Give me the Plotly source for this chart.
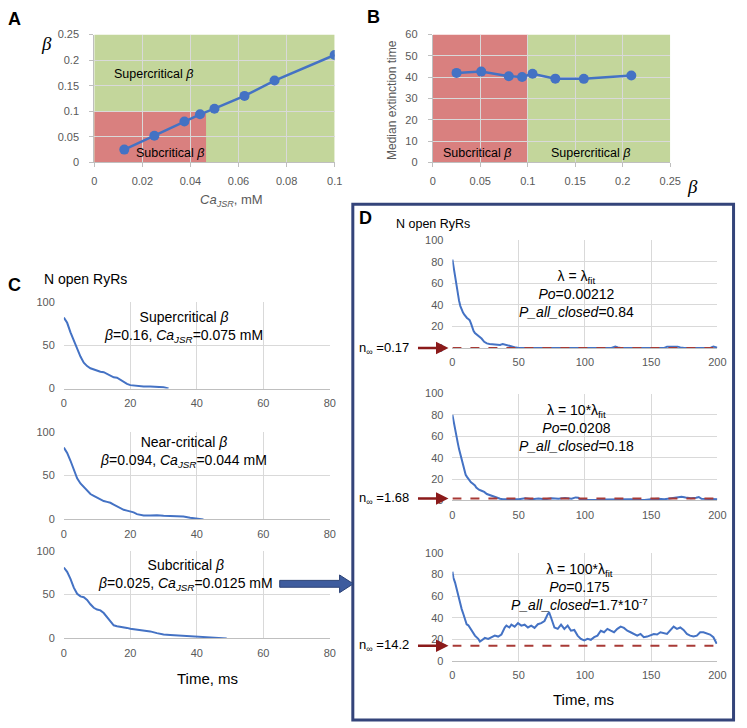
import plotly.graph_objects as go

W, H = 747, 728
def PX(x): return x / W
def PY(y): return 1 - y / H

FONT = "Liberation Sans, Arial, sans-serif"
SERIF = "Liberation Serif, Times New Roman, serif"
TICK_GRAY = "#595959"
GRID = "#D9D9D9"
AXLINE = "#BFBFBF"
BLUE = "#4472C4"
GREEN = "#C3D69B"
RED = "#D9807F"
DASH_RED = "#A83A36"
ARROW_RED = "#8B1A1A"

# ---------------- data ----------------
ca_jsr = [0.0125, 0.025, 0.0375, 0.044, 0.05, 0.0625, 0.075, 0.1]
beta_a = [0.025, 0.052, 0.08, 0.094, 0.105, 0.13, 0.16, 0.21]
ca_sub_limit = 0.0465
beta_crit = 0.1

beta_b = [0.025, 0.051, 0.08, 0.094, 0.105, 0.129, 0.159, 0.209]
ext_time = [42.0, 42.6, 40.4, 40.1, 41.6, 39.3, 39.2, 40.8]

c1_t = [0, 1, 2, 3, 4, 5, 6, 7, 8, 9, 10, 11, 12, 13, 14, 15, 16, 17, 18, 19, 20,
        22, 24, 26, 28, 30, 31.5]
c1_n = [82, 76, 65, 55, 45, 37, 30, 26, 23.5, 22, 21, 19.5, 19, 17, 14.5, 13, 12.5, 10, 7.5, 5.5, 4,
        3, 2.5, 2.3, 2.2, 1.5, 0]

c2_t = [0, 1, 2, 3, 4, 5, 6, 7, 8, 9, 10, 11, 12, 13, 14, 15, 16, 17, 18, 19, 20, 21, 22, 23, 24,
        26, 28, 30, 32, 34, 36, 38, 40, 41, 42]
c2_n = [82, 76, 67, 56, 47, 41, 37, 33, 29, 27, 25, 23, 21, 20, 19, 17, 15, 13, 11, 10, 9, 8, 6, 5, 4.5,
        4.5, 4.8, 4.2, 4, 3.5, 3.3, 2, 1, 0.5, 0]

c3_t = [0, 1, 2, 3, 4, 5, 6, 7, 8, 9, 10, 11, 12, 13, 14, 15, 16, 17, 18, 19, 20,
        22, 24, 26, 28, 30, 32, 34, 36, 38, 40, 42, 44, 46, 48, 49]
c3_n = [81, 76, 68, 58, 51, 48, 47, 44, 39, 35, 33, 32, 29, 24, 19, 15, 14, 13.5, 13, 12, 11,
        10, 9, 8, 6, 4.5, 4, 3.5, 3, 2.6, 2.3, 2, 1.8, 1, 0.5, 0]

d1_t = [0, 1, 2, 3, 4, 5, 6, 7, 8, 9, 10, 11, 12, 13, 14, 15, 16, 17, 18, 19, 20,
        22, 24, 26, 28, 30, 32, 34, 36, 38, 40, 42, 44, 46, 48, 50,
        60, 80, 100, 120, 123, 125, 127, 140, 160, 162, 166, 170, 172, 175, 190, 195, 197, 199, 200]
d1_n = [82, 74, 67, 59, 50, 44, 39, 35, 33, 31, 29, 28, 27, 26, 23, 19, 16, 14, 13, 12, 11,
        9, 6, 4.5, 4, 3.6, 3.6, 3.3, 3, 4, 3.2, 2.5, 1.5, 1, 0.6, 0.3,
        0.2, 0.2, 0.2, 0.3, 1.5, 0.8, 0.2, 0.2, 0.3, 1.5, 1.5, 1.5, 0.8, 0.2, 0.2, 0.5, 1.5, 0.8, 0.5]

d2_t = [0, 1, 2, 3, 4, 5, 6, 7, 8, 9, 10, 11, 12, 13, 14, 15, 16, 17, 18, 19, 20,
        22, 24, 26, 28, 30, 32, 34, 36, 38, 40,
        45, 50, 55, 60, 65, 70, 75, 80, 85, 90, 93, 95, 97,
        100, 105, 110, 115, 120, 125, 130, 135, 140, 145, 150, 155, 160, 165, 170,
        173, 176, 180, 184, 186, 188, 192, 196, 200]
d2_n = [80, 73, 65, 59, 54, 48, 43, 38, 33, 28, 24, 22, 20, 19, 17, 16, 15, 14, 12, 11, 10,
        9, 8, 6, 5, 4, 3, 2, 1.5, 1, 1,
        1.5, 1, 2, 1, 1.8, 1.2, 2, 1.5, 2.2, 1.5, 2.8, 2.5, 0.5,
        0.3, 0.5, 0.3, 0.8, 1, 0.6, 0.8, 1.2, 0.5, 0.3, 1, 1.5, 1.2, 2, 2.5,
        3.5, 2.8, 2, 2.5, 3.2, 1.5, 1.2, 1, 1]

d3_t = [0, 0.75, 2, 3.25, 4.5, 5.75, 7, 8.25, 9.5, 10.75, 12, 14.5, 17, 19.5, 20.75, 22, 24.5, 27,
        29.5, 32, 34.5, 37, 39.5, 40.75, 43, 44.5, 47, 49.5, 52, 54.5, 57, 59.5, 62, 64.5, 67,
        69.5, 72, 73, 74.5, 77, 79.5, 82, 84.5, 87, 89.5, 92, 94.5, 97, 99.5, 102, 104.5, 107,
        109.5, 112, 114.5, 117, 119.5, 122, 124.5, 127, 129.5, 132, 134.5, 137, 139.5, 142,
        144.5, 147, 149.5, 152, 154.5, 157, 162, 164.5, 167, 169.5, 172, 174.5, 177, 179.5,
        182, 184.5, 187, 189.5, 192, 194.5, 197, 199.5]
d3_n = [82.5, 77, 72.5, 66, 62, 56, 48, 43.5, 39, 34, 33, 28, 23.5, 20.5, 18, 19, 21.4, 20.5,
        22, 23.5, 22.6, 24.5, 31, 32.7, 31, 33.6, 31.8, 35, 32.7, 33.6, 31, 32.7, 30.6, 34, 35,
        37, 43.4, 45, 40, 31, 29.7, 33.6, 29.7, 32.7, 28, 28.7, 23.5, 20.5, 19, 20.5, 19.6, 22,
        23.5, 28, 26.6, 29.7, 28, 26.6, 29.7, 31.8, 30.6, 28, 26.6, 25, 23.5, 25,
        22, 22.6, 23.5, 25, 24.5, 26.6, 25, 28, 31.8, 29.7, 31, 28.7, 25, 23.5,
        22.6, 23.5, 26.6, 26.6, 25.7, 24.5, 22, 16]

n_inf = [0.17, 1.68, 14.2]
n_inf_labels = ["0.17", "1.68", "14.2"]

c_titles = ["Supercritical <i>β</i><br><i>β</i>=0.16, <i>Ca<sub>JSR</sub></i>=0.075 mM",
            "Near-critical <i>β</i><br><i>β</i>=0.094, <i>Ca<sub>JSR</sub></i>=0.044 mM",
            "Subcritical <i>β</i><br><i>β</i>=0.025, <i>Ca<sub>JSR</sub></i>=0.0125 mM"]
d_titles = ["λ = λ<sub>fit</sub><br><i>Po</i>=0.00212<br><i>P_all_closed</i>=0.84",
            "λ = 10*λ<sub>fit</sub><br><i>Po</i>=0.0208<br><i>P_all_closed</i>=0.18",
            "λ = 100*λ<sub>fit</sub><br><i>Po</i>=0.175<br><i>P_all_closed</i>=1.7*10<sup>-7</sup>"]

# ---------------- layout geometry (pixels) ----------------
A_box = (93, 338, 29, 159)
B_box = (438, 680, 29, 159)
C_boxes = [(62, 333, 301, 389), (62, 333, 433, 522), (62, 333, 554, 643)]
D_boxes = [(458, 728, 238, 348), (458, 728, 394, 502.7), (458, 728, 556, 666)]

fig = go.Figure()
layout = dict(width=W, height=H, margin=dict(l=0, r=0, t=0, b=0), autosize=False,
              paper_bgcolor="white", plot_bgcolor="rgba(0,0,0,0)",
              showlegend=False, font=dict(family=FONT, color="black"))

tickfont = dict(family=FONT, size=11, color=TICK_GRAY)

def set_axes(i, box, xr, xd, yr, yd, ticks, yline):
    sx = "" if i == 1 else str(i)
    x0, x1, yt, yb = box
    xa = dict(domain=[PX(x0), PX(x1)], range=xr, dtick=xd, tick0=0, anchor="y" + sx,
              showgrid=True, gridcolor=GRID, gridwidth=1, zeroline=False,
              showline=True, linecolor=AXLINE, linewidth=1,
              ticks="outside" if ticks else "", ticklen=4 if ticks else 0, tickcolor=AXLINE,
              tickfont=tickfont, ticklabelstandoff=4, fixedrange=True)
    ya = dict(domain=[PY(yb), PY(yt)], range=yr, dtick=yd, tick0=0, anchor="x" + sx,
              showgrid=True, gridcolor=GRID, gridwidth=1, zeroline=False,
              showline=yline, linecolor=AXLINE, linewidth=1,
              ticks="outside" if ticks else "", ticklen=4 if ticks else 0, tickcolor=AXLINE,
              tickfont=tickfont, ticklabelstandoff=8, fixedrange=True)
    layout["xaxis" + sx] = xa
    layout["yaxis" + sx] = ya
    return "x" + sx, "y" + sx

shapes = []
annots = []

xa, ya = set_axes(1, A_box, [0, 0.1], 0.02, [0, 0.25], 0.05, True, True)
shapes.append(dict(type="rect", xref=xa, yref=ya, x0=0, x1=0.1, y0=0, y1=0.25,
                   fillcolor=GREEN, line_width=0, layer="below"))
shapes.append(dict(type="rect", xref=xa, yref=ya, x0=0, x1=ca_sub_limit, y0=0, y1=beta_crit,
                   fillcolor=RED, line_width=0, layer="below"))
fig.add_trace(go.Scatter(x=ca_jsr, y=beta_a, mode="lines+markers", xaxis=xa, yaxis=ya,
                         line=dict(color=BLUE, width=2.5), marker=dict(color=BLUE, size=10)))

xb, yb = set_axes(2, B_box, [0, 0.25], 0.05, [0, 60], 10, True, True)
shapes.append(dict(type="rect", xref=xb, yref=yb, x0=0, x1=beta_crit, y0=0, y1=60,
                   fillcolor=RED, line_width=0, layer="below"))
shapes.append(dict(type="rect", xref=xb, yref=yb, x0=beta_crit, x1=0.25, y0=0, y1=60,
                   fillcolor=GREEN, line_width=0, layer="below"))
fig.add_trace(go.Scatter(x=beta_b, y=ext_time, mode="lines+markers", xaxis=xb, yaxis=yb,
                         line=dict(color=BLUE, width=2.5), marker=dict(color=BLUE, size=10)))

c_data = [(c1_t, c1_n), (c2_t, c2_n), (c3_t, c3_n)]
for k, (box, (tt, nn)) in enumerate(zip(C_boxes, c_data)):
    xc, yc = set_axes(3 + k, box, [0, 80], 20, [0, 100], 50, False, False)
    fig.add_trace(go.Scatter(x=tt, y=nn, mode="lines", xaxis=xc, yaxis=yc,
                             line=dict(color=BLUE, width=2)))

d_data = [(d1_t, d1_n), (d2_t, d2_n), (d3_t, d3_n)]
for k, (box, (tt, nn)) in enumerate(zip(D_boxes, d_data)):
    xd, yd = set_axes(6 + k, box, [0, 200], 50, [0, 100], 20, False, False)
    fig.add_trace(go.Scatter(x=tt, y=nn, mode="lines", xaxis=xd, yaxis=yd,
                             line=dict(color=BLUE, width=2)))
    fig.add_trace(go.Scatter(x=[0, 200], y=[n_inf[k], n_inf[k]], mode="lines", xaxis=xd, yaxis=yd,
                             line=dict(color=DASH_RED, width=2, dash="dash")))
    annots.append(dict(xref="paper", yref=yd, x=PX(454), y=n_inf[k], ax=-32, ay=0,
                       axref="pixel", ayref="pixel", text="", showarrow=True,
                       arrowhead=2, arrowsize=1, arrowwidth=2.5, arrowcolor=ARROW_RED))
    annots.append(dict(xref="paper", yref=yd, x=PX(416), y=n_inf[k], xanchor="right",
                       yanchor="middle", showarrow=False,
                       text="n<sub>∞</sub> =" + n_inf_labels[k],
                       font=dict(size=13, color="black")))

shapes.append(dict(type="rect", xref="paper", yref="paper", x0=PX(356.5), x1=PX(744.5),
                   y0=PY(726), y1=PY(201.5), line=dict(color="#34447A", width=3),
                   fillcolor="rgba(0,0,0,0)", layer="above"))

pts = [(282, 584), (343, 584), (343, 578.5), (357, 587.5), (343, 596.5), (343, 591), (282, 591)]
path = "M " + " L ".join(f"{PX(x):.5f},{PY(y):.5f}" for x, y in pts) + " Z"
shapes.append(dict(type="path", xref="paper", yref="paper", path=path,
                   fillcolor="#3E5C9E", line=dict(color="#2C4275", width=1), layer="above"))

def txt(x, y, s, size=13, color="black", xanchor="center", yanchor="middle", angle=0, family=FONT):
    annots.append(dict(xref="paper", yref="paper", x=PX(x), y=PY(y), text=s, showarrow=False,
                       xanchor=xanchor, yanchor=yanchor, textangle=angle,
                       font=dict(size=size, color=color, family=family)))

txt(3, 13, "<b>A</b>", size=18, xanchor="left")
txt(369, 11, "<b>B</b>", size=18, xanchor="left")
txt(3, 284, "<b>C</b>", size=18, xanchor="left")
txt(361, 216, "<b>D</b>", size=18, xanchor="left")

txt(44, 38, "<i>β</i>", size=19, family=SERIF)
txt(153, 69, "Supercritical <i>β</i>", size=12.5)
txt(170, 149, "Subcritical <i>β</i>", size=12.5)
txt(233, 198, "<i>Ca</i><sub><i>JSR</i></sub>, mM", size=13, color=TICK_GRAY)

txt(397, 96, "Median extinction time", size=12, color=TICK_GRAY, angle=-90)
txt(483, 149, "Subcritical <i>β</i>", size=12.5)
txt(599, 149, "Supercritical <i>β</i>", size=12.5)
txt(703, 184, "<i>β</i>", size=19, family=SERIF)

txt(40, 278, "N open RyRs", size=14, xanchor="left")
c_centers = [(184, 326), (184, 453), (186, 579)]
for (cx, cy), s in zip(c_centers, c_titles):
    txt(cx, cy, s, size=14)
txt(208, 684, "Time, ms", size=15)

txt(398, 222, "N open RyRs", size=12.5, xanchor="left")
d_centers = [(584, 293), (584, 429), (588, 591)]
for (cx, cy), s in zip(d_centers, d_titles):
    txt(cx, cy, s, size=14)
txt(592, 705, "Time, ms", size=15)

layout["shapes"] = shapes
layout["annotations"] = annots
fig.update_layout(**layout)
fig.write_html("out.html",
               config={"responsive": False, "displayModeBar": False},
               post_script="document.body.style.margin='0';document.body.style.overflow='hidden';"
                           "document.documentElement.style.overflow='hidden';")
